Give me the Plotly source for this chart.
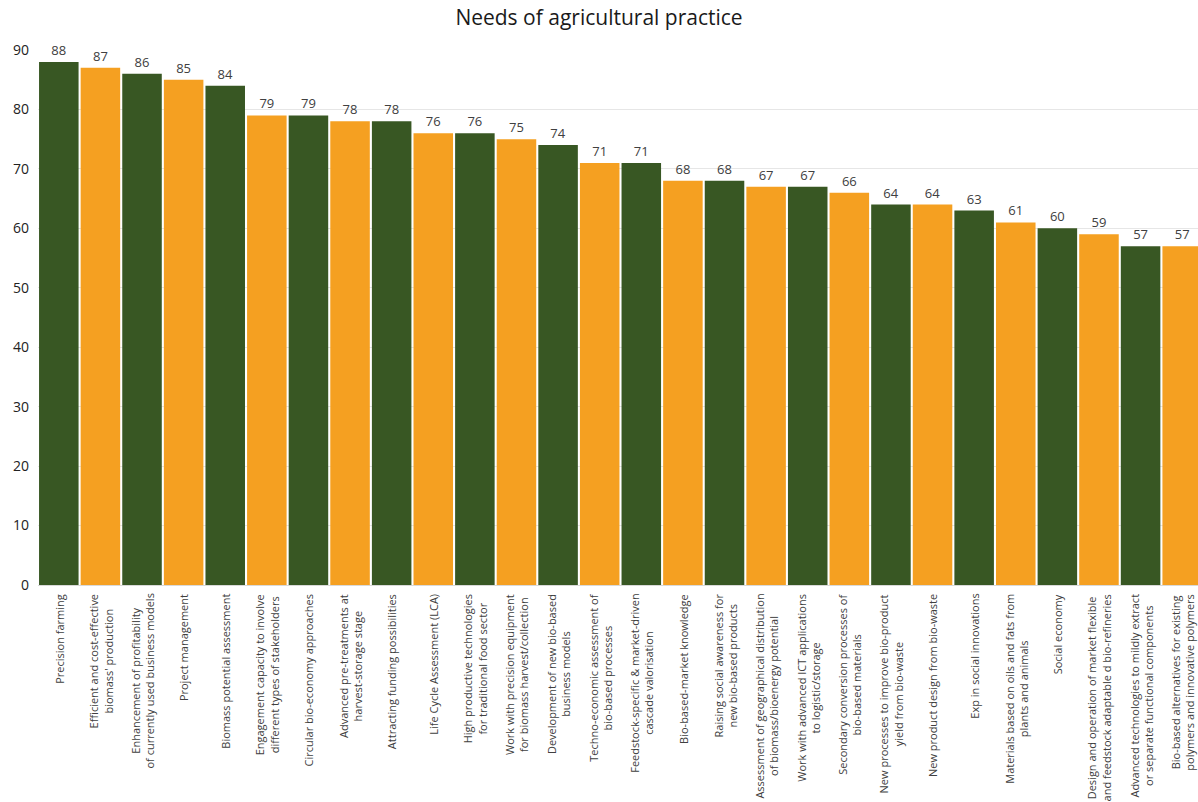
import plotly.graph_objects as go

categories = [
    "Precision farming",
    "Efficient and cost-effective<br>biomass' production",
    "Enhancement of profitability<br>of currently used business models",
    "Project management",
    "Biomass potential assessment",
    "Engagement capacity to involve<br>different types of stakeholders",
    "Circular bio-economy approaches",
    "Advanced pre-treatments at<br>harvest-storage stage",
    "Attracting funding possibilities",
    "Life Cycle Assessment (LCA)",
    "High productive technologies<br>for traditional food sector",
    "Work with precision equipment<br>for biomass harvest/collection",
    "Development of new bio-based<br>business models",
    "Techno-economic assessment of<br>bio-based processes",
    "Feedstock-specific & market-driven<br>cascade valorisation",
    "Bio-based-market knowledge",
    "Raising social awareness for<br>new bio-based products",
    "Assessment of geographical distribution<br>of biomass/bioenergy potential",
    "Work with advanced ICT applications<br>to logistic/storage",
    "Secondary conversion processes of<br>bio-based materials",
    "New processes to improve bio-product<br>yield from bio-waste",
    "New product design from bio-waste",
    "Exp in social innovations",
    "Materials based on oils and fats from<br>plants and animals",
    "Social economy",
    "Design and operation of market flexible<br>and feedstock adaptable d bio-refineries",
    "Advanced technologies to mildly extract<br>or separate functional components",
    "Bio-based alternatives for existing<br>polymers and innovative polymers",
]
values = [88, 87, 86, 85, 84, 79, 79, 78, 78, 76, 76, 75, 74, 71, 71,
          68, 68, 67, 67, 66, 64, 64, 63, 61, 60, 59, 57, 57]
y_ticks = [0, 10, 20, 30, 40, 50, 60, 70, 80, 90]

GREEN = "#385723"
ORANGE = "#F5A021"
FONT = "Open Sans, Lato, sans-serif"
colors = [GREEN if i % 2 == 0 else ORANGE for i in range(len(values))]
xs = list(range(len(values)))

fig = go.Figure(go.Bar(
    x=xs,
    y=values,
    marker=dict(color=colors, line=dict(width=0)),
    text=[str(v) for v in values],
    textposition="outside",
    textfont=dict(family=FONT, size=13, color="#404040"),
    cliponaxis=False,
))

annotations = [
    dict(x=x, xref="x", y=0, yref="paper", yshift=-7,
         text=lab, textangle=-90, xanchor="center", yanchor="top",
         align="center", showarrow=False,
         font=dict(family=FONT, size=11, color="#404040"))
    for x, lab in zip(xs, categories)
]

fig.update_layout(
    width=1198, height=802,
    margin=dict(l=38, r=0, t=50, b=217),
    paper_bgcolor="white", plot_bgcolor="white",
    bargap=0.05,
    showlegend=False,
    title=dict(text="Needs of agricultural practice", x=0.5, xanchor="center",
               y=0.978, yanchor="middle",
               font=dict(family=FONT, size=21, color="#1a1a1a")),
    font=dict(family=FONT, color="#404040"),
    annotations=annotations,
)
fig.update_xaxes(
    tickmode="array", tickvals=xs, showticklabels=False,
    range=[-0.5, 27.38], showgrid=False, showline=True, linecolor="#d9d9d9",
    ticks="", zeroline=False,
)
fig.update_yaxes(
    range=[0, 90], tickvals=y_ticks, showgrid=True, gridcolor="#e6e6e6",
    tickfont=dict(family=FONT, size=14, color="#222222"), zeroline=False, showline=False,
    ticklabelstandoff=8,
)

fig.write_html("out.html")
